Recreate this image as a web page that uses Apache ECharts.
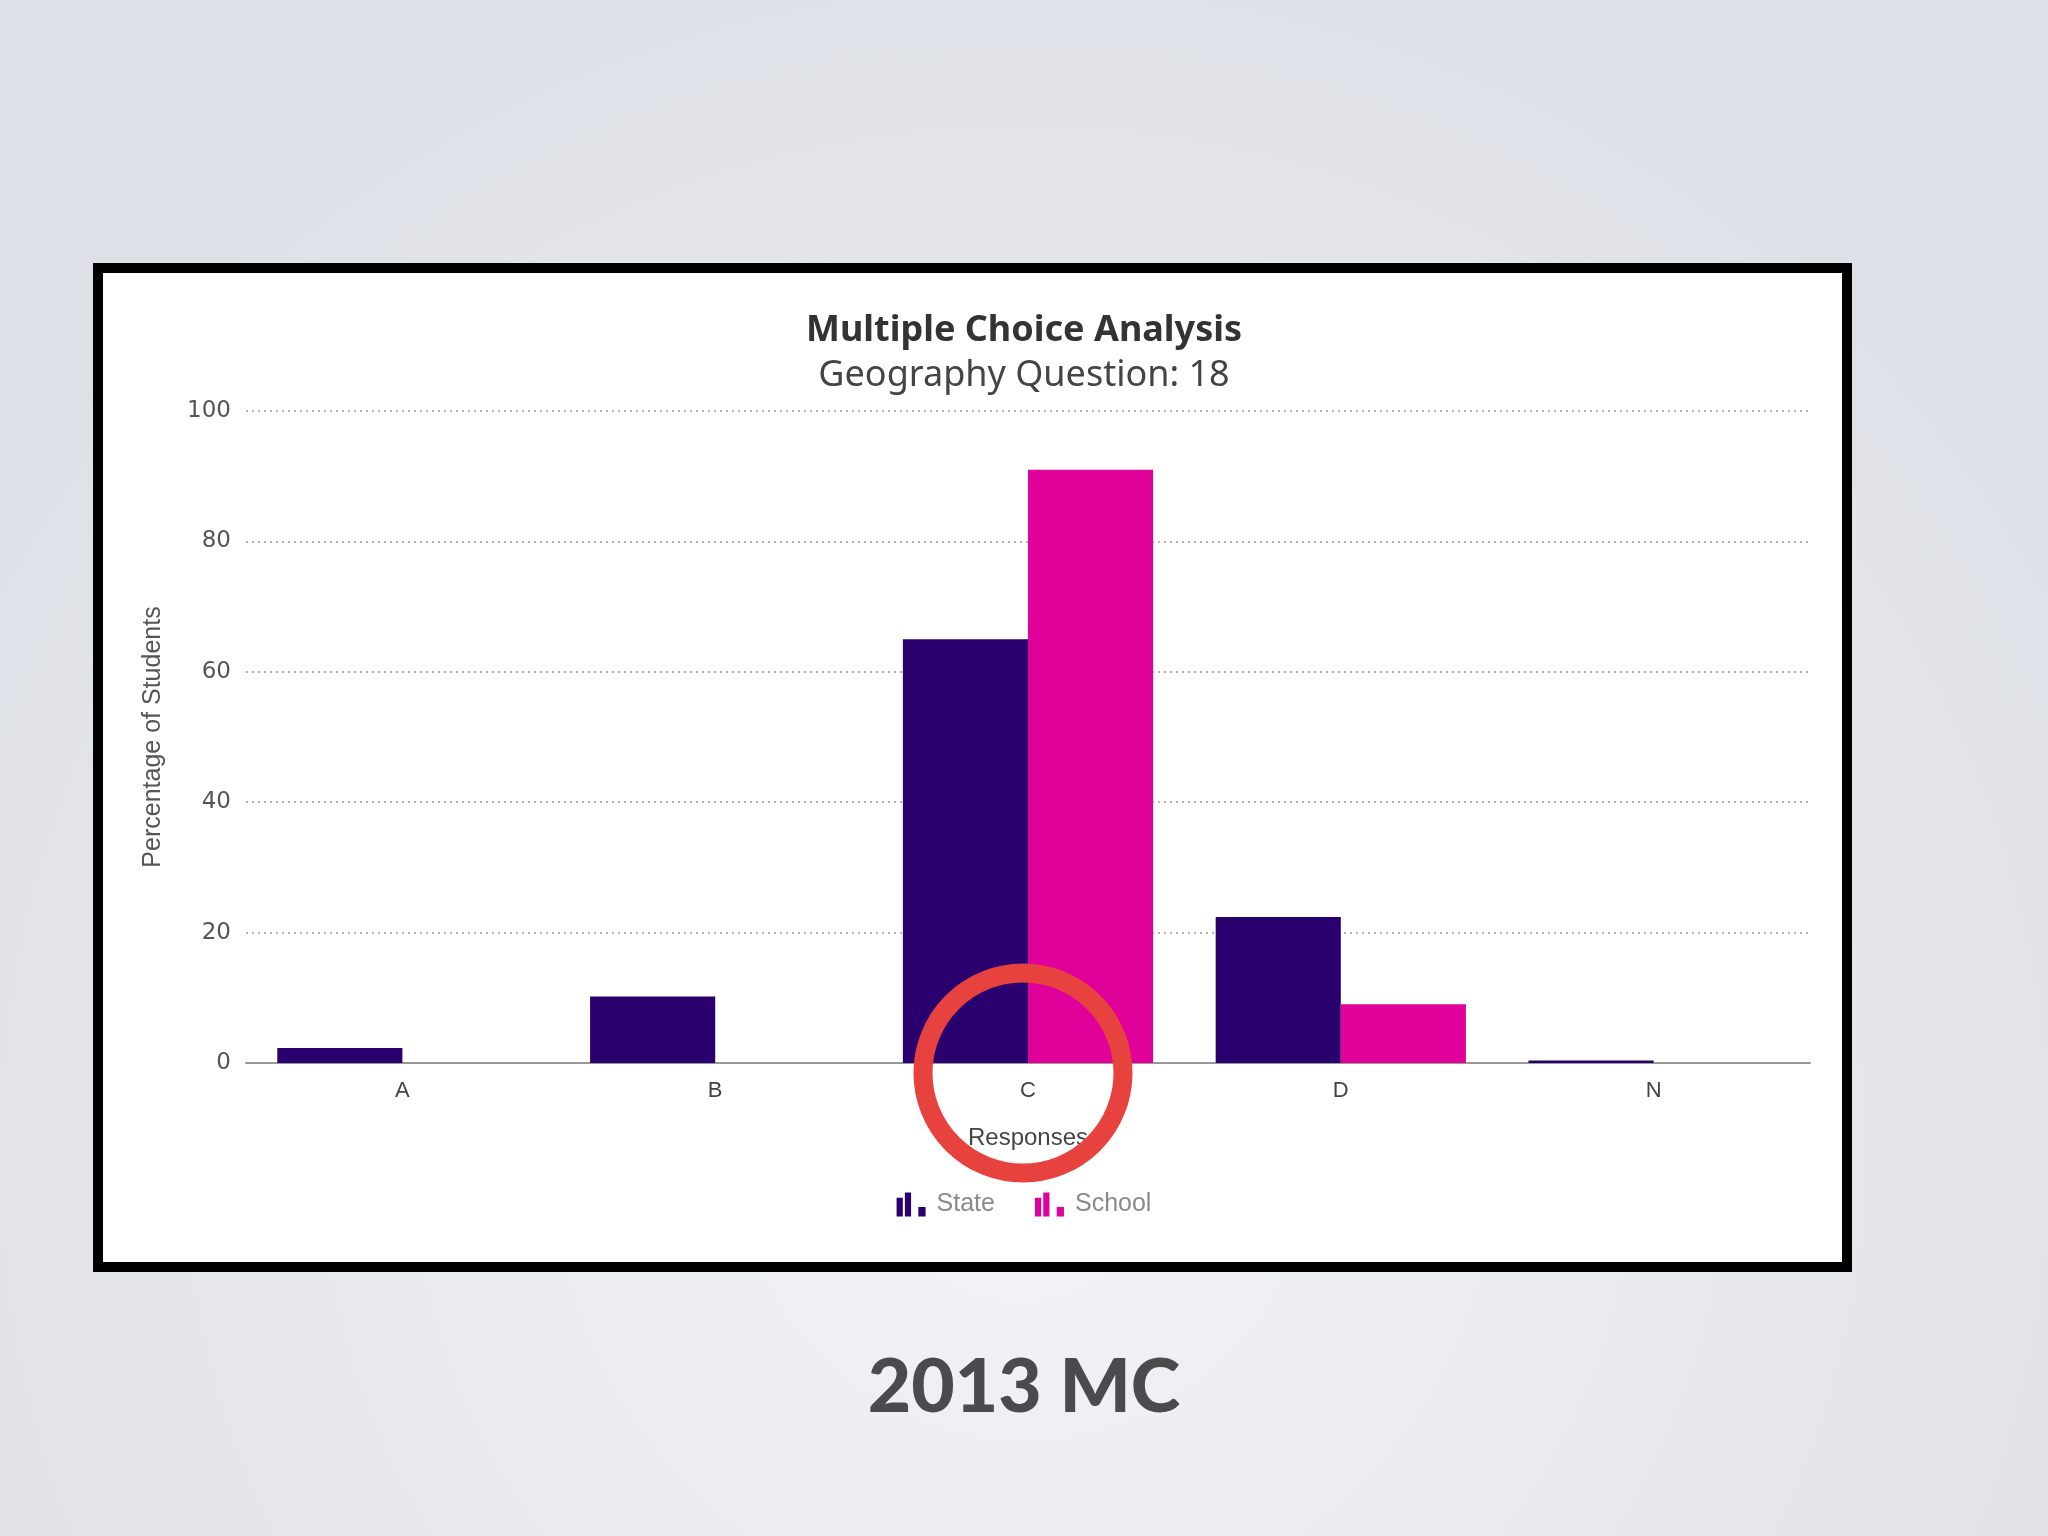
<!DOCTYPE html>
<html>
<head>
<meta charset="utf-8">
<style>
html,body{margin:0;padding:0;width:2048px;height:1536px;overflow:hidden;}
#chart{width:2048px;height:1536px;}
</style>
<script src="https://cdn.jsdelivr.net/npm/echarts@6/dist/echarts.min.js"></script>
</head>
<body>
<div id="chart"></div>
<script>
const categories = ['A', 'B', 'C', 'D', 'N'];
const stateValues = [2.3, 10.2, 65, 22.4, 0.4];
const schoolValues = [0, 0, 91, 9, 0];
const yTicks = [0, 20, 40, 60, 80, 100];
const titleText = 'Multiple Choice Analysis';
const subtitleText = 'Geography Question: 18';
const slideCaption = '2013 MC';

const chart = echarts.init(document.getElementById('chart'), null, {renderer: 'canvas'});
const barIcon = 'path://M0,5 H6 V23 H0 Z M8,0 H14 V23 H8 Z M21,14 H28 V23 H21 Z';

const option = {
  backgroundColor: 'transparent',
  animation: false,
  title: [
    {text: titleText, left: 'center', top: 305,
      textStyle: {fontFamily: 'Noto Sans', fontWeight: 'bold', fontSize: 36, color: '#333', lineHeight: 42}},
    {text: subtitleText, left: 'center', top: 350,
      textStyle: {fontFamily: 'Noto Sans', fontWeight: 'normal', fontSize: 36, color: '#444', lineHeight: 42}}
  ],
  legend: {
    data: ['State', 'School'],
    left: 'center', top: 1187,
    itemWidth: 29, itemHeight: 25, itemGap: 40,
    icon: barIcon,
    textStyle: {fontFamily: 'Liberation Sans', fontSize: 25, color: '#8a8a8a', padding: [0, 0, 0, 6]}
  },
  grid: {left: 246, right: 238, top: 411, bottom: 473, containLabel: false},
  xAxis: {
    type: 'category',
    data: categories,
    name: 'Responses',
    nameLocation: 'middle',
    nameGap: 63,
    nameTextStyle: {fontFamily: 'Liberation Sans', fontSize: 24, color: '#444'},
    axisLine: {lineStyle: {color: '#999', width: 2}},
    axisTick: {show: false},
    axisLabel: {fontFamily: 'Liberation Sans', fontSize: 22, color: '#444', margin: 17}
  },
  yAxis: {
    type: 'value',
    min: yTicks[0], max: yTicks[yTicks.length - 1], interval: 20,
    name: 'Percentage of Students',
    nameLocation: 'middle',
    nameGap: 80,
    nameRotate: 90,
    nameTextStyle: {fontFamily: 'Liberation Sans', fontSize: 25, color: '#555'},
    axisLine: {show: false},
    axisTick: {show: false},
    axisLabel: {fontFamily: 'DejaVu Sans', fontSize: 23, color: '#555', margin: 15},
    splitLine: {lineStyle: {type: [2, 4], color: '#999', width: 1.5}}
  },
  series: [
    {name: 'State', type: 'bar', data: stateValues, barGap: '0%', barCategoryGap: '20%',
      itemStyle: {color: '#2a006e'}, z: 3},
    {name: 'School', type: 'bar', data: schoolValues, barGap: '0%', barCategoryGap: '20%',
      itemStyle: {color: '#e0009a'}, z: 3}
  ],
  graphic: [
    {type: 'rect', z: -100, silent: true,
      shape: {x: 0, y: 0, width: 2048, height: 1536},
      style: {fill: new echarts.graphic.RadialGradient(0.5, 0.75, 0.8, [
        {offset: 0, color: '#f4f4f7'},
        {offset: 1, color: '#dde0e6'}
      ])}},
    {type: 'rect', z: -90, silent: true,
      shape: {x: 98, y: 268, width: 1749, height: 999},
      style: {fill: '#ffffff', stroke: '#000000', lineWidth: 10}},
    {type: 'circle', z: 100, silent: true,
      shape: {cx: 1023, cy: 1073, r: 100},
      style: {fill: 'none', stroke: '#e8423f', lineWidth: 19}},
    {type: 'text', z: 100, silent: true,
      x: 1024, y: 1388,
      style: {text: slideCaption, fill: '#4b4b4e', fontFamily: 'Lato', fontWeight: 900,
        fontSize: 75, align: 'center', verticalAlign: 'middle'}}
  ]
};
chart.setOption(option);
</script>
</body>
</html>
